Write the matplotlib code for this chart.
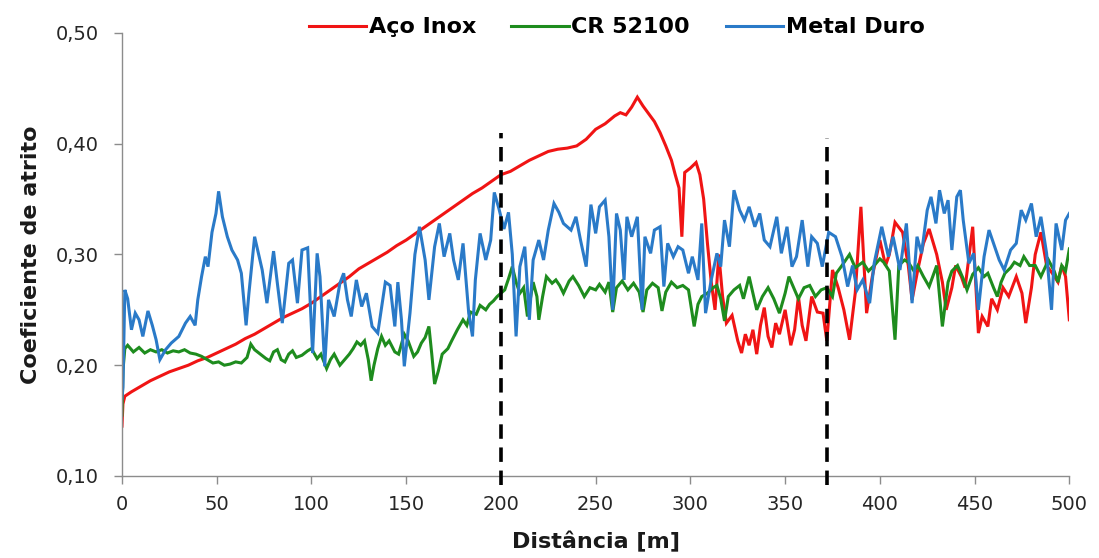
import matplotlib
matplotlib.use('Agg')
import matplotlib.pyplot as plt

# Aço Inox (red)
inox_x = [0, 0.5, 1.5, 5, 10, 15, 20, 25, 30, 35, 40, 45, 50, 55, 60, 65, 70, 75, 80, 85,
          90, 95, 100, 105, 110, 115, 120, 125, 130, 135, 140, 145, 150, 155, 160, 165, 170,
          175, 180, 185, 190, 195, 200, 205, 210, 215, 220, 225, 230, 235, 240, 245, 250,
          255, 260, 263, 266, 269, 272, 275, 278, 281, 284, 287, 290, 292, 294, 295.5, 297,
          300, 303, 305, 307, 309, 311, 313, 315, 317, 319, 322, 325, 327, 329, 331, 333,
          335, 337, 339, 341, 343, 345, 347, 350, 353, 355, 357, 359, 361, 364, 367, 370,
          372, 375, 378, 381, 384, 387, 390, 393, 396, 400, 403, 405, 408, 412, 415, 417,
          420, 423, 426, 430, 433, 435, 438, 440, 443, 445, 449, 452, 454, 457, 459, 462,
          465, 468, 472, 475, 477, 480, 482, 485, 488, 491, 494, 496, 498, 500]
inox_y = [0.145, 0.165, 0.172, 0.176, 0.181, 0.186, 0.190, 0.194, 0.197, 0.200, 0.204,
          0.207, 0.211, 0.215, 0.219, 0.224, 0.228, 0.233, 0.238, 0.243, 0.247, 0.251,
          0.256, 0.262, 0.268, 0.274, 0.280, 0.287, 0.292, 0.297, 0.302, 0.308, 0.313,
          0.319, 0.325, 0.331, 0.337, 0.343, 0.349, 0.355, 0.360, 0.366, 0.372, 0.375,
          0.380, 0.385, 0.389, 0.393, 0.395, 0.396, 0.398, 0.404, 0.413, 0.418, 0.425,
          0.428, 0.426, 0.433, 0.442, 0.434, 0.427, 0.420, 0.410, 0.398, 0.385, 0.372,
          0.360, 0.316, 0.374, 0.378, 0.383, 0.372, 0.350, 0.310, 0.275, 0.250, 0.300,
          0.262, 0.238, 0.245, 0.222, 0.211, 0.228, 0.218, 0.232, 0.210, 0.236, 0.252,
          0.226, 0.216, 0.238, 0.228, 0.250, 0.218, 0.232, 0.262, 0.236, 0.222, 0.262,
          0.248, 0.247, 0.222, 0.286, 0.270, 0.250, 0.223, 0.265, 0.343, 0.247, 0.280,
          0.313, 0.290, 0.300, 0.329, 0.320, 0.290, 0.259, 0.286, 0.310, 0.323, 0.300,
          0.275, 0.250, 0.270, 0.290, 0.280, 0.270, 0.325, 0.229, 0.244, 0.235, 0.260,
          0.250, 0.270, 0.262, 0.280, 0.265, 0.238, 0.270, 0.300, 0.320, 0.290, 0.283,
          0.275, 0.290, 0.280, 0.241]

# CR 52100 (green)
cr_x = [0, 0.5, 1.5, 3, 6, 9, 12, 15, 18, 21, 24, 27, 30, 33, 36, 39, 42, 45, 48, 51, 54,
        57, 60, 63, 66, 68, 70, 73, 76, 78, 80, 82, 84, 86, 88, 90, 92, 95, 98, 100, 103,
        105, 108, 110, 112, 115, 118, 120, 122, 124, 126, 128, 130, 131.5, 133, 135, 137,
        139, 141, 144, 146, 149, 151, 154, 156, 158, 160, 162, 163.5, 165, 167, 169, 172,
        174, 177, 180, 182, 184, 187, 189, 192, 194, 196, 198, 200, 202, 204, 206, 208,
        210, 212, 214, 217, 219, 220, 222, 224, 227, 229, 231, 233, 236, 238, 241, 244,
        247, 250, 252, 255, 257, 259, 261, 264, 267, 270, 273, 275, 277, 280, 283, 285,
        287, 290, 293, 296, 299, 302, 304, 306, 309, 312, 314, 316, 318, 320, 323, 326,
        328, 331, 333, 335, 338, 341, 344, 347, 350, 352, 355, 357, 360, 363, 366, 369,
        372, 375, 377, 380, 384, 387, 391, 394, 397, 400, 402, 405, 408, 410, 413, 415,
        418, 420, 423, 426, 430, 433, 436, 438, 441, 444, 446, 449, 452, 455, 457, 460,
        462, 464, 466, 469, 471, 474, 476, 479, 482, 485, 489, 492, 494, 496, 498, 500]
cr_y = [0.155, 0.195, 0.215, 0.218, 0.212, 0.216, 0.211, 0.214, 0.212, 0.214, 0.211,
        0.213, 0.212, 0.214, 0.211, 0.210, 0.208, 0.205, 0.202, 0.203, 0.200, 0.201,
        0.203, 0.202, 0.207, 0.219, 0.214, 0.210, 0.206, 0.204, 0.212, 0.214, 0.205,
        0.203, 0.210, 0.213, 0.207, 0.209, 0.213, 0.215, 0.206, 0.210, 0.197, 0.205,
        0.210, 0.200, 0.206, 0.210, 0.215, 0.221, 0.218, 0.222, 0.205, 0.186, 0.200,
        0.215, 0.226, 0.218, 0.222, 0.212, 0.210, 0.228, 0.222, 0.208, 0.212, 0.220,
        0.225, 0.235, 0.210, 0.183, 0.195, 0.210, 0.215, 0.222, 0.232, 0.241, 0.236,
        0.248, 0.246, 0.254, 0.250, 0.255, 0.258, 0.262, 0.265, 0.268, 0.278, 0.289,
        0.275, 0.265, 0.270, 0.244, 0.275, 0.262, 0.241, 0.262, 0.280, 0.274, 0.277,
        0.272, 0.265, 0.276, 0.280, 0.272, 0.262, 0.270, 0.268, 0.273, 0.266, 0.275,
        0.248, 0.270, 0.276, 0.268, 0.274, 0.266, 0.248, 0.268, 0.274, 0.270, 0.249,
        0.266, 0.275, 0.270, 0.272, 0.268, 0.235, 0.255, 0.262, 0.265, 0.270, 0.272,
        0.260, 0.240, 0.262, 0.268, 0.272, 0.260, 0.280, 0.265, 0.250, 0.262, 0.270,
        0.260, 0.247, 0.265, 0.280, 0.268, 0.260, 0.270, 0.272, 0.262, 0.268, 0.270,
        0.262, 0.283, 0.290, 0.300, 0.288, 0.293, 0.285, 0.290, 0.296, 0.293, 0.285,
        0.223, 0.290, 0.295, 0.293, 0.285, 0.290, 0.280, 0.271, 0.290, 0.235, 0.275,
        0.285, 0.290, 0.278, 0.268, 0.282, 0.288, 0.280, 0.283, 0.270, 0.262, 0.275,
        0.283, 0.288, 0.293, 0.290, 0.298, 0.290, 0.290, 0.280, 0.295, 0.285, 0.275,
        0.290, 0.285, 0.305]

# Metal Duro (blue)
md_x = [0, 0.5, 1.5, 3, 5, 7, 9, 11, 13.7, 16, 18, 20, 23, 26, 30, 33.5, 36, 38.6, 40, 42,
        44, 45.4, 47.5, 49.6, 51, 53, 55.6, 58, 61, 63, 65.5, 67, 70, 72, 74, 76.5, 80, 82,
        84.6, 88, 90, 92.6, 95, 98, 100.6, 103, 104.5, 107, 109, 112, 115, 117, 119, 121,
        123.7, 126.5, 129, 132, 135, 139, 141.5, 144, 145.6, 147.5, 149, 152, 154.6, 157,
        160, 162, 165, 167.5, 170, 173, 175, 177.5, 180, 183, 185, 186.5, 189, 192, 194.6,
        196.5, 199, 201.6, 204, 206, 208, 210, 212.6, 215, 217, 220, 222.5, 225, 228,
        230.6, 233, 237, 239.6, 242, 245, 247.5, 250, 252, 255, 257, 259, 261, 263, 265,
        266.5, 269, 272, 274.5, 276, 279, 281, 284, 286, 288, 291, 293.5, 296, 299, 301,
        304, 306, 308, 311, 314, 316, 318, 320.6, 323, 326, 328.5, 331, 334, 336.6, 339,
        342, 345.6, 348, 351, 353.6, 356, 359, 362, 364, 367, 369.6, 373, 376.6, 380, 383,
        385.6, 388, 391, 394.6, 397, 401, 404.5, 407, 410.6, 414, 417, 419.6, 422, 425,
        427, 429.6, 431.5, 434, 436, 438, 440.6, 442.5, 444, 447, 449.5, 452, 455, 457.6,
        460, 463, 465.6, 469, 472, 474.6, 477, 480, 482.5, 485, 488, 490.6, 493, 496, 498,
        500]
md_y = [0.170, 0.180, 0.268, 0.260, 0.232, 0.247, 0.241, 0.226, 0.249, 0.236, 0.223,
        0.205, 0.214, 0.220, 0.226, 0.238, 0.244, 0.236, 0.259, 0.280, 0.298, 0.289,
        0.320, 0.337, 0.357, 0.334, 0.316, 0.304, 0.295, 0.283, 0.236, 0.265, 0.316,
        0.301, 0.286, 0.256, 0.303, 0.274, 0.238, 0.292, 0.295, 0.256, 0.304, 0.306,
        0.211, 0.301, 0.280, 0.199, 0.259, 0.244, 0.274, 0.283, 0.259, 0.244, 0.277,
        0.253, 0.265, 0.235, 0.229, 0.275, 0.272, 0.235, 0.275, 0.241, 0.199, 0.247,
        0.300, 0.325, 0.295, 0.259, 0.307, 0.328, 0.298, 0.319, 0.295, 0.277, 0.310,
        0.247, 0.226, 0.277, 0.319, 0.295, 0.313, 0.356, 0.341, 0.323, 0.338, 0.300,
        0.226, 0.289, 0.307, 0.241, 0.295, 0.313, 0.295, 0.322, 0.346, 0.338, 0.328,
        0.322, 0.334, 0.313, 0.289, 0.345, 0.319, 0.343, 0.349, 0.316, 0.250, 0.337,
        0.322, 0.277, 0.334, 0.316, 0.334, 0.250, 0.316, 0.301, 0.322, 0.325, 0.271,
        0.310, 0.298, 0.307, 0.304, 0.283, 0.298, 0.277, 0.328, 0.247, 0.277, 0.301,
        0.289, 0.331, 0.307, 0.358, 0.340, 0.331, 0.343, 0.325, 0.337, 0.313, 0.307,
        0.334, 0.301, 0.325, 0.289, 0.298, 0.331, 0.289, 0.316, 0.310, 0.289, 0.320,
        0.316, 0.298, 0.271, 0.290, 0.268, 0.277, 0.256, 0.292, 0.325, 0.298, 0.316,
        0.286, 0.328, 0.256, 0.316, 0.301, 0.340, 0.352, 0.328, 0.358, 0.337, 0.349,
        0.304, 0.352, 0.358, 0.331, 0.292, 0.301, 0.250, 0.298, 0.322, 0.310, 0.295,
        0.286, 0.304, 0.310, 0.340, 0.331, 0.346, 0.316, 0.334, 0.301, 0.250, 0.328,
        0.304, 0.331, 0.337]

labels = ['Aço Inox', 'CR 52100', 'Metal Duro']
colors = ['#f01414', '#1e8c1e', '#2a7ac8']

# vertical markers: (x, top of dashed line)
marks_x = [200, 372]
marks_top = [0.41, 0.405]

yticks = [0.10, 0.20, 0.30, 0.40, 0.50]
xticks = list(range(0, 501, 50))

plt.rcParams['font.family'] = ['DejaVu Sans']

fig = plt.figure(figsize=(10.99, 5.58), dpi=100)
ax = fig.add_axes([0.111, 0.147, 0.862, 0.794])

series = [(inox_x, inox_y), (cr_x, cr_y), (md_x, md_y)]
for (xs, ys), lab, col in zip(series, labels, colors):
    ax.plot(xs, ys, color=col, lw=2.2, label=lab, solid_joinstyle='miter')

for mx, mt in zip(marks_x, marks_top):
    ax.plot([mx, mx], [0.092, mt], color='black', lw=2.6, ls=(0, (4, 2.4)),
            clip_on=False, zorder=5)

ax.set_xlim(0, 500)
ax.set_ylim(0.10, 0.50)
ax.set_xticks(xticks)
ax.set_yticks(yticks)
ax.set_yticklabels([('%.2f' % v).replace('.', ',') for v in yticks])

for s in ['top', 'right']:
    ax.spines[s].set_visible(False)
for s in ['left', 'bottom']:
    ax.spines[s].set_color('#8c8c8c')
    ax.spines[s].set_linewidth(1.0)
ax.tick_params(axis='both', colors='#8c8c8c', labelcolor='#262626', labelsize=14,
               length=6, width=1.0, direction='out')
ax.tick_params(axis='x', pad=8)
ax.tick_params(axis='y', pad=11)

ax.set_xlabel('Distância [m]', fontsize=16, fontweight='bold', color='#1a1a1a',
              labelpad=12)
ax.set_ylabel('Coeficiente de atrito', fontsize=16, fontweight='bold', color='#1a1a1a',
              labelpad=10)

leg = fig.legend(loc='center', bbox_to_anchor=(0.561, 0.951), ncol=3, frameon=False,
                 prop={'size': 16, 'weight': 'bold'}, handlelength=2.6,
                 handletextpad=0.1, columnspacing=1.6)
for l in leg.get_lines():
    l.set_linewidth(2.2)

fig.savefig('out.png', dpi=100, facecolor='white')
